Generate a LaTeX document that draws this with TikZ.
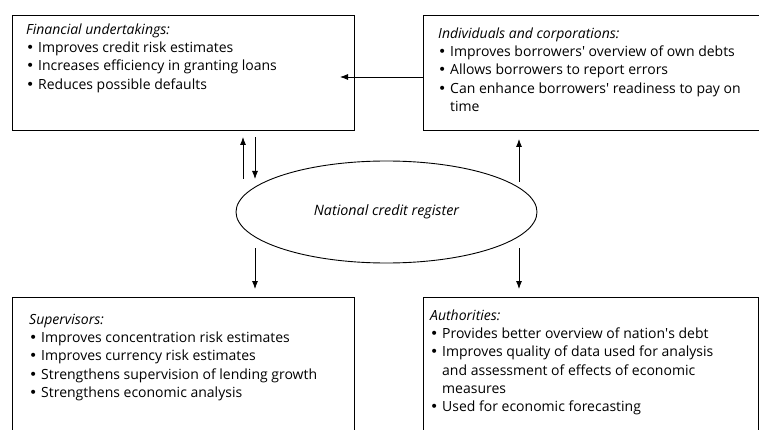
\documentclass[tikz,border=0pt]{standalone}
\usepackage{fontspec}
\setmainfont{Open Sans}
\newfontfamily\apfont{Open Sans}
\newfontfamily\dvfont{DejaVu Sans}
\usetikzlibrary{shapes.geometric,arrows.meta}
\newcommand{\bl}{\makebox[12pt][l]{\dvfont •}}
\newcommand{\ct}{\makebox[12pt][l]{}}
\newcommand{\ap}{{\apfont '}}
\newcommand{\ttl}[1]{\strut\textit{#1}}
\tikzset{
  box/.style={draw=black, line width=0.9pt, rectangle, inner sep=0pt, anchor=north west},
  txt/.style={anchor=north west, inner sep=0pt, align=left, font=\fontsize{14}{18.3}\selectfont},
  arr/.style={line width=0.8pt, -{Latex[length=8pt,width=6pt]}},
  reg/.style={draw=black, line width=0.9pt, ellipse, inner sep=0pt, font=\fontsize{14.3}{18.3}\selectfont\itshape}
}
\begin{document}
\begin{tikzpicture}[x=1pt,y=-1pt]
\useasboundingbox (0,0) rectangle (759,430);
% boxes
\node[box, minimum width=342pt, minimum height=115pt] (fin) at (12,15) {};
\node[box, minimum width=345pt, minimum height=115pt] (ind) at (423,15) {};
\node[box, minimum width=342pt, minimum height=150pt] (sup) at (12,297) {};
\node[box, minimum width=335pt, minimum height=150pt] (aut) at (423,297) {};
\node[reg, minimum width=301pt, minimum height=102pt] (ncr) at (386.5,212) {National credit register};
% texts
\node[txt] (fintxt) at (26,21.2) {\ttl{Financial undertakings:}\\
\bl Improves credit risk estimates\\
\bl Increases efficiency in granting loans\\
\bl Reduces possible defaults};
\node[txt] (indtxt) at (438,25.2) {\ttl{Individuals and corporations:}\\
\bl Improves borrowers\ap{} overview of own debts\\
\bl Allows borrowers to report errors\\
\bl Can enhance borrowers\ap{} readiness to pay on\\
\ct time};
\node[txt] (suptxt) at (29,311.2) {\ttl{Supervisors:}\\
\bl Improves concentration risk estimates\\
\bl Improves currency risk estimates\\
\bl Strengthens supervision of lending growth\\
\bl Strengthens economic analysis};
\node[txt] (auttxt) at (430,307.2) {\ttl{Authorities:}\\
\bl Provides better overview of nation\ap{}s debt\\
\bl Improves quality of data used for analysis\\
\ct and assessment of effects of economic\\
\ct measures\\
\bl Used for economic forecasting};
% connector ends
\coordinate (a1s) at (243,179);
\coordinate (a1e) at (243,137);
\coordinate (a2s) at (255,137);
\coordinate (a2e) at (255,179);
\coordinate (a3s) at (519,182);
\coordinate (a3e) at (519,139);
\coordinate (a4s) at (255,248);
\coordinate (a4e) at (255,289);
\coordinate (a5s) at (519,248);
\coordinate (a5e) at (519,289);
\coordinate (a6e) at (340,77);
% connectors
\draw[arr] (a1s) -- (a1e);
\draw[arr] (a2s) -- (a2e);
\draw[arr] (a3s) -- (a3e);
\draw[arr] (a4s) -- (a4e);
\draw[arr] (a5s) -- (a5e);
\draw[arr] (ind.west |- a6e) -- (a6e);
\end{tikzpicture}
\end{document}
